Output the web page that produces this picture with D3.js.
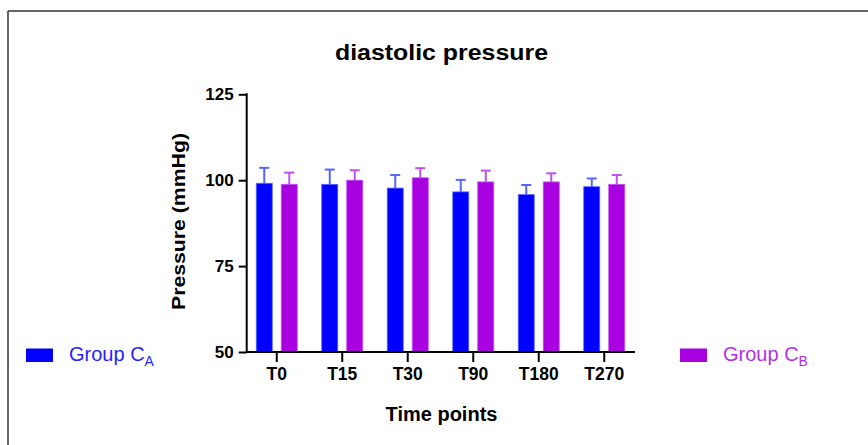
<!DOCTYPE html>
<html>
<head>
<meta charset="utf-8">
<script src="https://cdn.jsdelivr.net/npm/d3@7"></script>
<style>
  html, body { margin: 0; padding: 0; background: #fff; }
  svg { display: block; font-family: "Liberation Sans", Arial, sans-serif; }
</style>
</head>
<body>
<svg id="chart" width="868" height="445"></svg>
<script>
// ---- data ----
const categories = ["T0", "T15", "T30", "T90", "T180", "T270"];
const seriesNames = ["Group C_A", "Group C_B"];
const groupAMean = [99.1, 98.8, 97.7, 96.6, 95.8, 98.1];
const groupASD   = [4.5, 4.3, 3.8, 3.5, 2.8, 2.4];
const groupBMean = [98.8, 100.0, 100.7, 99.5, 99.5, 98.8];
const groupBSD   = [3.4, 2.9, 2.8, 3.3, 2.5, 2.7];
const yTicks = [50, 75, 100, 125];

const colors = { A: "#0000FF", B: "#A800E0" };
const errColors = { A: "#5566FF", B: "#C050F0" };

const svg = d3.select("#chart");

// frame lines (top and left)
svg.append("line").attr("x1", 8).attr("x2", 868).attr("y1", 11).attr("y2", 11)
  .attr("stroke", "#333").attr("stroke-width", 1.5);
svg.append("line").attr("x1", 8).attr("x2", 8).attr("y1", 11).attr("y2", 445)
  .attr("stroke", "#333").attr("stroke-width", 1.5);

// scales
const x = d3.scaleBand().domain(categories).range([244, 637]).padding(0);
const xSub = d3.scaleBand().domain(["A", "B"]).range([-20.5, 20.5]).paddingInner(0.36).paddingOuter(0);
const y = d3.scaleLinear().domain([50, 125]).range([352, 94.3]);

const xAxisStart = 246.7, xAxisEnd = 635;

// data rows
const rows = categories.map((c, i) => ({
  cat: c,
  vals: [
    { key: "A", mean: groupAMean[i], sd: groupASD[i] },
    { key: "B", mean: groupBMean[i], sd: groupBSD[i] }
  ]
}));

const g = svg.append("g");

// error bars (behind bars)
rows.forEach(r => {
  r.vals.forEach(v => {
    const cx = x(r.cat) + x.bandwidth() / 2 + xSub(v.key) + xSub.bandwidth() / 2;
    g.append("line")
      .attr("x1", cx).attr("x2", cx)
      .attr("y1", y(v.mean)).attr("y2", y(v.mean + v.sd))
      .attr("stroke", errColors[v.key]).attr("stroke-width", 2);
    g.append("line")
      .attr("x1", cx - 5).attr("x2", cx + 5)
      .attr("y1", y(v.mean + v.sd)).attr("y2", y(v.mean + v.sd))
      .attr("stroke", errColors[v.key]).attr("stroke-width", 2);
  });
});

// bars
rows.forEach(r => {
  g.selectAll(null).data(r.vals).enter().append("rect")
    .attr("x", v => x(r.cat) + x.bandwidth() / 2 + xSub(v.key))
    .attr("width", xSub.bandwidth())
    .attr("y", v => y(v.mean))
    .attr("height", v => y(50) - y(v.mean))
    .attr("fill", v => colors[v.key])
    .attr("stroke", v => errColors[v.key])
    .attr("stroke-width", 0.8);
});

// Y axis
const yAxis = svg.append("g").attr("transform", `translate(${xAxisStart},0)`)
  .call(d3.axisLeft(y).tickValues(yTicks).tickSize(8).tickPadding(5).tickFormat(d3.format("d")));
yAxis.select(".domain").remove();
yAxis.append("line").attr("x1", 0).attr("x2", 0).attr("y1", y(125) - 1).attr("y2", y(50) + 1)
  .attr("stroke", "#000").attr("stroke-width", 2);
yAxis.selectAll(".tick line").attr("stroke", "#000").attr("stroke-width", 2);
yAxis.selectAll(".tick text").attr("fill", "#000")
  .style("font-size", "17px").style("font-weight", "bold")
  .style("font-family", "'Liberation Sans', Arial, sans-serif");

// X axis
const xAxis = svg.append("g").attr("transform", `translate(0,${y(50)})`)
  .call(d3.axisBottom(x).tickSize(10).tickPadding(6));
xAxis.select(".domain").remove();
xAxis.append("line").attr("x1", xAxisStart - 1).attr("x2", xAxisEnd).attr("y1", 0).attr("y2", 0)
  .attr("stroke", "#000").attr("stroke-width", 2);
xAxis.selectAll(".tick line").attr("stroke", "#000").attr("stroke-width", 2);
xAxis.selectAll(".tick text").attr("fill", "#000")
  .style("font-size", "17.5px").style("font-weight", "bold")
  .style("font-family", "'Liberation Sans', Arial, sans-serif");

// Title
svg.append("text").attr("x", 441.5).attr("y", 60).attr("text-anchor", "middle")
  .attr("textLength", 213).attr("lengthAdjust", "spacingAndGlyphs")
  .style("font-size", "22px").style("font-weight", "bold").attr("fill", "#000")
  .text("diastolic pressure");

// Axis titles
svg.append("text").attr("x", 441.5).attr("y", 421).attr("text-anchor", "middle")
  .style("font-size", "20px").style("font-weight", "bold").attr("fill", "#000")
  .text("Time points");

svg.append("text").attr("transform", "translate(185,221.5) rotate(-90)")
  .attr("text-anchor", "middle")
  .attr("textLength", 177).attr("lengthAdjust", "spacingAndGlyphs")
  .style("font-size", "19px").style("font-weight", "bold").attr("fill", "#000")
  .text("Pressure (mmHg)");

// Legends
const legends = [
  { key: "A", rx: 26, tx: 69, main: "Group C", sub: "A" },
  { key: "B", rx: 680, tx: 723, main: "Group C", sub: "B" }
];
legends.forEach(l => {
  svg.append("rect").attr("x", l.rx).attr("y", 348.5).attr("width", 27).attr("height", 13.5)
    .attr("fill", colors[l.key]);
  const t = svg.append("text").attr("x", l.tx).attr("y", 361)
    .style("font-size", "20px").attr("fill", l.key === "A" ? "#1F1FFF" : "#B030E8");
  t.append("tspan").text(l.main);
  t.append("tspan").attr("dy", 5).style("font-size", "14px").text(l.sub);
});
</script>
</body>
</html>
